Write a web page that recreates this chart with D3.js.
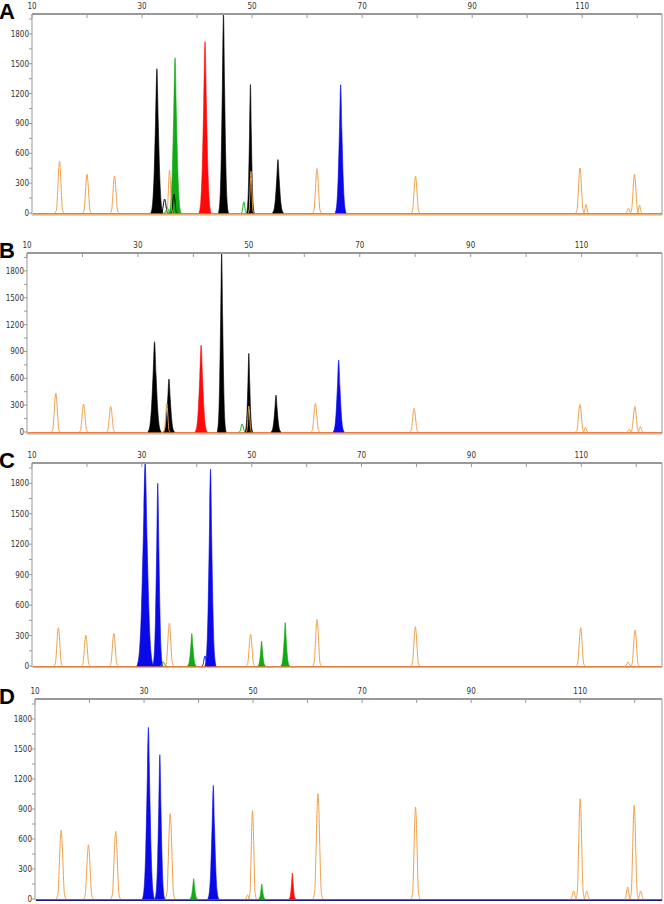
<!DOCTYPE html>
<html>
<head>
<meta charset="utf-8">
<script src="https://cdn.jsdelivr.net/npm/d3@7"></script>
<style>
  body { margin: 0; background: #fff; }
  .tick-label { font-family: "Liberation Sans Narrow", "DejaVu Sans Condensed", "Liberation Sans", sans-serif; font-size: 8px; fill: #333; }
  .panel-letter { font-family: "Liberation Sans", Arial, sans-serif; font-weight: bold; font-size: 22px; fill: #000; }
</style>
</head>
<body>
<div id="chart"></div>
<script>
// axis ticks (fragment size on top, signal on left)
const xTicks = [10, 20, 30, 40, 50, 60, 70, 80, 90, 100, 110, 120];
const xLabels = [10, 30, 50, 70, 90, 110];
const yTicks = [0, 150, 300, 450, 600, 750, 900, 1050, 1200, 1350, 1500, 1650, 1800, 1950];
const yLabels = [0, 300, 600, 900, 1200, 1500, 1800];

// peaks: [size, height, half width at base (size units, optional)]
// panel A
const orangeA = [[15, 520], [20, 390], [25, 373], [35, 430, 0.6], [49.8, 420, 0.5], [61.8, 447], [79.7, 370],
                 [109.6, 453], [110.7, 87, 0.5], [118.4, 50, 0.5], [119.5, 390], [120.4, 80, 0.5]];
const blackFillA = [[32.7, 1450, 1.1], [44.8, 2000, 0.9], [49.7, 1290, 0.7], [54.7, 537, 1.0]];
const blackLineA = [[34.1, 140, 0.7], [35.8, 190, 0.6]];
const greenFillA = [[36, 1560, 1.1]];
const greenLineA = [[34.6, 50, 0.6], [48.5, 113, 0.5]];
const redFillA = [[41.45, 1723, 1.1]];
const blueFillA = [[66.1, 1290, 1.0]];

// panel B
const orangeB = [[15.2, 432], [20.2, 313], [25.1, 283], [35.2, 320, 0.6], [50, 290, 0.5], [62, 320], [79.8, 265],
                 [109.7, 309], [110.7, 52, 0.5], [118.6, 30, 0.5], [119.6, 283], [120.6, 60, 0.5]];
const blackFillB = [[33, 1009, 1.2], [35.6, 592, 1.0], [45.1, 2000, 0.8], [50, 879, 0.7], [54.9, 413, 0.9]];
const greenLineB = [[48.8, 89, 0.6]];
const redFillB = [[41.4, 972, 1.1]];
const blueFillB = [[66.2, 804, 1.0]];

// panel C
const orangeC = [[14.8, 377], [19.8, 305], [24.9, 322], [35, 420], [49.8, 312], [61.9, 460], [79.8, 387],
                 [109.9, 377], [118.5, 40, 0.6], [119.8, 355]];
const blueFillC = [[30.6, 2000, 1.5], [32.9, 1800, 0.9], [42.5, 1940, 1.0]];
const blueLineC = [[41.5, 100, 0.6]];
const greenFillC = [[39.1, 322, 0.8], [51.8, 246, 0.7], [56.1, 427, 0.8]];
const greenLineC = [[33.9, 40, 0.6]];

// panel D
const orangeD = [[14.8, 686, 0.9], [19.8, 543, 0.9], [24.8, 676, 0.9], [34.8, 853, 0.9], [49, 40, 0.5], [49.9, 883, 0.7],
                 [61.9, 1053, 0.9], [79.8, 920, 0.8], [108.8, 80, 0.6], [110, 1003, 0.8], [111.2, 80, 0.6],
                 [118.7, 120, 0.6], [119.9, 936, 0.8], [121.1, 80, 0.6]];
const blueFillD = [[30.8, 1716, 1.1], [32.9, 1443, 0.9], [42.7, 1136, 1.0]];
const greenFillD = [[39.1, 203, 0.7], [51.6, 150, 0.6]];
const redFillD = [[57.2, 260, 0.6]];

const colors = {orange: "#f0a04b", black: "#000000", green: "#14a814", red: "#ff0a0a", blue: "#0a0ae6"};

const panels = [
  {name: "A", left: 32, top: 14, zero: 213, bottom: 215, xMax: 124.5, base: ["#e07040", "#f0a04b"],
   fills: [[blackFillA, "black"], [greenFillA, "green"], [redFillA, "red"], [blueFillA, "blue"]],
   lines: [[blackLineA, "black"], [greenLineA, "green"], [orangeA, "orange"]]},
  {name: "B", left: 27, top: 253, zero: 432, bottom: 434, xMax: 124.5, base: ["#e07040", "#f0a04b"],
   fills: [[blackFillB, "black"], [redFillB, "red"], [blueFillB, "blue"]],
   lines: [[greenLineB, "green"], [orangeB, "orange"]]},
  {name: "C", left: 32, top: 463, zero: 666, bottom: 667, xMax: 124.7, base: ["#e07040", "#f0a04b"],
   fills: [[blueFillC, "blue"], [greenFillC, "green"]],
   lines: [[blueLineC, "blue"], [greenLineC, "green"], [orangeC, "orange"]]},
  {name: "D", left: 35, top: 699, zero: 899, bottom: 900, xMax: 125, base: ["#f0a04b", "#1a1a80"],
   fills: [[blueFillD, "blue"], [greenFillD, "green"], [redFillD, "red"]],
   lines: [[orangeD, "orange"]]}
];

const W = 664, H = 904, right = 662;

const svg = d3.select("#chart")
    .append("svg")
    .attr("width", W)
    .attr("height", H);

// peak outline: offsets along x (x half width) and fraction of height
const fillDx = [-1, -0.7, -0.45, -0.22, 0, 0.22, 0.45, 0.7, 1];
const fillDy = [0, 0.07, 0.28, 0.64, 1, 0.64, 0.28, 0.07, 0];
const lineDx = [-1, -0.65, -0.4, -0.18, 0, 0.18, 0.4, 0.65, 1];
const lineDy = [0, 0.08, 0.45, 0.85, 1, 0.85, 0.45, 0.08, 0];

panels.forEach(function(p) {
  const g = svg.append("g");

  const x = d3.scaleLinear().domain([10, p.xMax]).range([p.left, right]);
  const y = d3.scaleLinear().domain([0, 2000]).range([p.zero, p.top]);

  function peakPts(pk, defW, dx, dy) {
    const w = pk[2] || defW;
    return dx.map((d, i) => [pk[0] + d * w, pk[1] * dy[i]]);
  }

  const area = d3.area()
      .x(d => x(d[0]))
      .y0(y(0))
      .y1(d => y(d[1]))
      .curve(d3.curveMonotoneX);
  const line = d3.line()
      .x(d => x(d[0]))
      .y(d => y(d[1]))
      .curve(d3.curveMonotoneX);

  // frame
  g.append("line").attr("x1", right).attr("x2", right).attr("y1", p.top).attr("y2", p.bottom)
    .attr("stroke", "#9a9a9a").attr("stroke-width", 1);
  g.append("line").attr("x1", p.left).attr("x2", right).attr("y1", p.bottom).attr("y2", p.bottom)
    .attr("stroke", "#b0b0b0").attr("stroke-width", 1);

  // baseline traces
  p.base.forEach(function(c, i) {
    g.append("line").attr("x1", p.left + 1).attr("x2", right)
      .attr("y1", y(0) + 0.5 + i * 0.7).attr("y2", y(0) + 0.5 + i * 0.7)
      .attr("stroke", c).attr("stroke-width", p.name === "D" && i === 1 ? 1.4 : 1);
  });

  // filled peaks
  p.fills.forEach(function(f) {
    g.selectAll(null)
      .data(f[0])
      .join("path")
      .attr("d", d => area(peakPts(d, 1.0, fillDx, fillDy)))
      .attr("fill", colors[f[1]])
      .attr("stroke", colors[f[1]])
      .attr("stroke-width", 0.6);
  });

  // outline peaks
  p.lines.forEach(function(f) {
    g.selectAll(null)
      .data(f[0])
      .join("path")
      .attr("d", d => line(peakPts(d, 0.8, lineDx, lineDy)))
      .attr("fill", "none")
      .attr("stroke", colors[f[1]])
      .attr("stroke-width", 1);
  });

  // top axis (size)
  g.append("line").attr("x1", p.left).attr("x2", right).attr("y1", p.top).attr("y2", p.top)
    .attr("stroke", "#999").attr("stroke-width", 2);
  g.selectAll(null).data(xTicks).join("line")
    .attr("x1", d => x(d)).attr("x2", d => x(d))
    .attr("y1", p.top).attr("y2", p.top + 4)
    .attr("stroke", "#999").attr("stroke-width", 1);
  g.selectAll(null).data(xLabels).join("text")
    .attr("class", "tick-label")
    .attr("x", d => x(d))
    .attr("y", p.top - 5)
    .attr("text-anchor", "middle")
    .text(d => d);

  // left axis (signal)
  g.append("line").attr("x1", p.left).attr("x2", p.left).attr("y1", p.top).attr("y2", p.bottom)
    .attr("stroke", "#999").attr("stroke-width", 1);
  g.selectAll(null).data(yTicks).join("line")
    .attr("x1", p.left - 3).attr("x2", p.left)
    .attr("y1", d => y(d)).attr("y2", d => y(d))
    .attr("stroke", "#999").attr("stroke-width", 1);
  g.selectAll(null).data(yLabels).join("text")
    .attr("class", "tick-label")
    .attr("x", p.left - 3)
    .attr("y", d => y(d) + 3)
    .attr("text-anchor", "end")
    .text(d => d);

  // panel letter
  g.append("text")
    .attr("class", "panel-letter")
    .attr("x", -1)
    .attr("y", p.top + 5)
    .text(p.name);
});
</script>
</body>
</html>
